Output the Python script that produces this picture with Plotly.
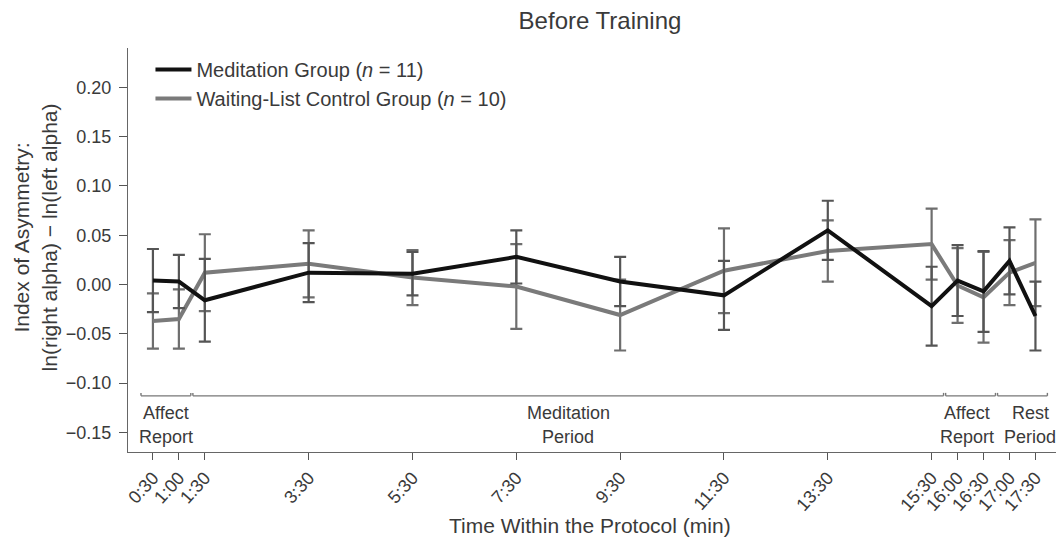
import plotly.graph_objects as go

# ---- data (minutes within protocol) ----
times = [0.5, 1.0, 1.5, 3.5, 5.5, 7.5, 9.5, 11.5, 13.5, 15.5, 16.0, 16.5, 17.0, 17.5]
tick_labels = ["0:30", "1:00", "1:30", "3:30", "5:30", "7:30", "9:30", "11:30",
               "13:30", "15:30", "16:00", "16:30", "17:00", "17:30"]
med_mean = [0.004, 0.003, -0.016, 0.012, 0.011, 0.028, 0.003, -0.011, 0.055,
            -0.022, 0.004, -0.007, 0.024, -0.032]
med_err = [0.032, 0.027, 0.042, 0.030, 0.022, 0.027, 0.025, 0.035, 0.030,
           0.040, 0.036, 0.041, 0.034, 0.035]
ctrl_mean = [-0.037, -0.035, 0.012, 0.021, 0.007, -0.002, -0.031, 0.014, 0.034,
             0.041, -0.001, -0.013, 0.012, 0.022]
ctrl_err = [0.028, 0.030, 0.039, 0.034, 0.028, 0.043, 0.036, 0.043, 0.031,
            0.036, 0.038, 0.046, 0.033, 0.044]

period_names = [["Affect", "Report"], ["Meditation", "Period"],
                ["Affect", "Report"], ["Rest", "Period"]]
period_start = [0.5, 1.5, 16.0, 17.0]
period_end = [1.0, 15.5, 16.5, 17.5]

y_ticks = [0.20, 0.15, 0.10, 0.05, 0.00, -0.05, -0.10, -0.15]

FONT = "Liberation Sans, Arial, sans-serif"
TXT = "#3a3a3a"

fig = go.Figure()
fig.add_trace(go.Scatter(
    x=times, y=ctrl_mean, mode="lines",
    name="Waiting-List Control Group (<i>n</i> = 10)",
    line=dict(color="#7a7a7a", width=4),
    error_y=dict(type="data", array=ctrl_err, visible=True,
                 color="#6e6e6e", thickness=2.2, width=6),
))
fig.add_trace(go.Scatter(
    x=times, y=med_mean, mode="lines",
    name="Meditation Group (<i>n</i> = 11)",
    line=dict(color="#111111", width=4),
    error_y=dict(type="data", array=med_err, visible=True,
                 color="#555555", thickness=2.2, width=6),
))

# period brackets
pad = 0.23
by = -0.113
label_shift = [0, 0, -4, 8]
for names, s, e, sh in zip(period_names, period_start, period_end, label_shift):
    x0, x1 = s - pad, e + pad
    fig.add_shape(type="line", xref="x", yref="y", x0=x0, x1=x1, y0=by, y1=by,
                  line=dict(color="#777777", width=1.4))
    for xx in (x0, x1):
        fig.add_shape(type="line", xref="x", yref="y", x0=xx, x1=xx,
                      y0=by, y1=by + 0.003, line=dict(color="#777777", width=1.4))
    mid = (s + e) / 2
    fig.add_annotation(x=mid, y=-0.130, xref="x", yref="y", text=names[0],
                       showarrow=False, xshift=sh, xanchor="center", yanchor="middle",
                       font=dict(size=18, color=TXT, family=FONT))
    fig.add_annotation(x=mid, y=-0.155, xref="x", yref="y", text=names[1],
                       showarrow=False, xshift=sh, xanchor="center", yanchor="middle",
                       font=dict(size=18, color=TXT, family=FONT))

# axis titles
fig.add_annotation(x=-0.099, y=0.532, xref="paper", yref="paper",
                   xanchor="center", yanchor="middle",
                   text="Index of Asymmetry:<br>ln(right alpha) − ln(left alpha)",
                   textangle=-90, showarrow=False,
                   font=dict(size=21, color=TXT, family=FONT))
fig.add_annotation(x=0.4936, y=-0.183, xref="paper", yref="paper",
                   xanchor="center", yanchor="middle",
                   text="Time Within the Protocol (min)", showarrow=False,
                   font=dict(size=21, color=TXT, family=FONT))

# page body has an 8px margin, so the figure is sized 8px smaller
fig.update_layout(
    width=1056, height=533,
    margin=dict(l=120, r=0, t=40, b=89, autoexpand=False),
    paper_bgcolor="white", plot_bgcolor="white",
    font=dict(family=FONT, size=18, color=TXT),
    title=dict(text="Before Training", xref="container", x=0.5606,
               xanchor="center", y=0.9925, yanchor="top", pad=dict(t=0, b=0),
               font=dict(size=24, color=TXT, family=FONT)),
    legend=dict(x=0.024, y=0.995, xanchor="left", yanchor="top",
                traceorder="reversed", bgcolor="rgba(0,0,0,0)",
                font=dict(size=20, color=TXT, family=FONT),
                itemwidth=36, tracegroupgap=0),
    showlegend=True,
)
fig.update_xaxes(range=[0.02, 18.05], tickmode="array", tickvals=times,
                 ticktext=tick_labels, tickangle=-48, ticks="outside",
                 ticklen=7, tickcolor="#555", showline=True, linecolor="#666",
                 linewidth=1.4, showgrid=False, zeroline=False, automargin=False,
                 tickfont=dict(size=18, color=TXT, family=FONT))
fig.update_yaxes(range=[-0.17, 0.24], tickmode="array", tickvals=y_ticks,
                 ticktext=[f"{v:.2f}".replace("-", "−") for v in y_ticks],
                 ticks="outside", ticklen=8, tickcolor="#555", showline=True,
                 linecolor="#666", linewidth=1.4, showgrid=False, zeroline=False,
                 automargin=False, ticklabelstandoff=4,
                 tickfont=dict(size=18, color=TXT, family=FONT))

fig.write_html("out.html")
